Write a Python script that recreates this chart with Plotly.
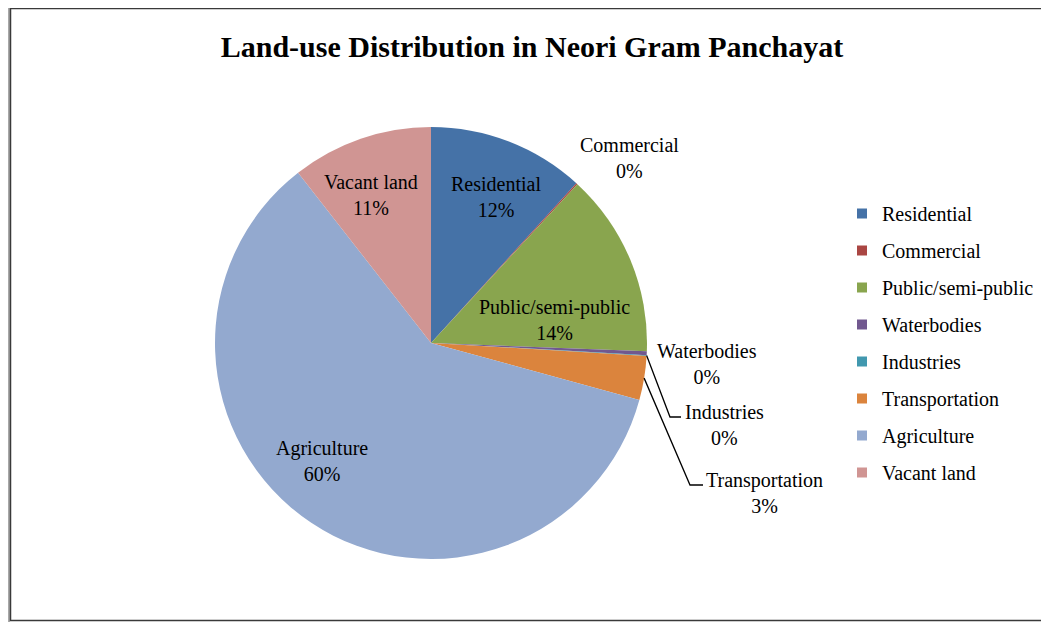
import math
import plotly.graph_objects as go

categories = ["Residential", "Commercial", "Public/semi-public", "Waterbodies",
              "Industries", "Transportation", "Agriculture", "Vacant land"]
values = [11.75, 0.1, 13.75, 0.3, 0.05, 3.3, 60.2, 10.55]
colors = ["#4572A7", "#AA4643", "#89A54E", "#71588F",
          "#4198AF", "#DB843D", "#93A9CF", "#D09593"]
title_text = "Land-use Distribution in Neori Gram Panchayat"

FONT = "Liberation Serif, Times New Roman, serif"

# page body has an 8px margin: figure drawn at (8, 8)
OFF = 8
W, H = 1041, 614


def px(x):
    return (x - OFF) / W


def py(y):
    return 1 - (y - OFF) / H


# pie geometry (screen pixels)
CX, CY, R = 431, 343, 216

fig = go.Figure()
fig.add_trace(go.Pie(
    labels=categories,
    values=values,
    sort=False,
    direction="clockwise",
    rotation=0,
    marker=dict(colors=colors, line=dict(width=0)),
    textinfo="none",
    showlegend=False,
    hoverinfo="label+percent",
    domain=dict(x=[px(CX - R), px(CX + R)], y=[py(CY + R), py(CY - R)]),
))

# legend entries via dummy traces
for i, (c, col) in enumerate(zip(categories, colors)):
    fig.add_trace(go.Scatter(
        x=[None], y=[None], mode="markers", name=c,
        marker=dict(symbol="square", size=10, color=col),
        legendgroup=f"g{i}", showlegend=True,
    ))

total = sum(values)


def edge_point(frac_pos, rr=1.0):
    ang = 2 * math.pi * frac_pos
    return CX + R * rr * math.sin(ang), CY - R * rr * math.cos(ang)


cum = []
s = 0
for v in values:
    cum.append((s, s + v))
    s += v

annotations = []
shapes = []

label_pos = {
    "Residential": (496, 197),
    "Commercial": (629, 158),
    "Public/semi-public": (554, 320),
    "Waterbodies": (707, 364),
    "Industries": (724, 425),
    "Transportation": (764, 493),
    "Agriculture": (322, 461),
    "Vacant land": (371, 195),
}
for i, c in enumerate(categories):
    pct = round(values[i] / total * 100)
    x, y = label_pos[c]
    annotations.append(dict(
        x=px(x), y=py(y), xref="paper", yref="paper",
        text=f"{c}<br>{pct}%", showarrow=False,
        font=dict(family=FONT, size=20, color="black"),
        xanchor="center", yanchor="middle", align="center",
    ))

# leader lines from slice edge
leaders = {"Industries": (670, 417, 681), "Transportation": (690, 485, 703)}
for i, c in enumerate(categories):
    if c in leaders:
        mid = (cum[i][0] + cum[i][1]) / 2 / total
        x0, y0 = edge_point(mid, 1.0)
        xb, yb, xe = leaders[c]
        shapes.append(dict(
            type="path", xref="paper", yref="paper",
            path=f"M {px(x0)} {py(y0)} L {px(xb)} {py(yb)} L {px(xe)} {py(yb)}",
            line=dict(color="black", width=1.3),
        ))

# frame / shadow
shapes.append(dict(type="rect", xref="paper", yref="paper", x0=px(0), x1=px(10), y0=0, y1=py(0),
                   fillcolor="#A8A8A8", line=dict(width=0), layer="below"))
shapes.append(dict(type="rect", xref="paper", yref="paper", x0=px(0), x1=1, y0=py(8), y1=py(0),
                   fillcolor="#B4B4B4", line=dict(width=0), layer="below"))
shapes.append(dict(type="rect", xref="paper", yref="paper", x0=px(10.5), x1=px(1070),
                   y0=py(620.5), y1=py(8.5),
                   fillcolor="white", line=dict(color="#3A3A3A", width=1.5), layer="below"))

fig.update_layout(
    width=W, height=H,
    margin=dict(l=0, r=0, t=0, b=0),
    paper_bgcolor="white", plot_bgcolor="white",
    title=dict(text=f"<b>{title_text}</b>", x=px(532), y=py(46),
               xanchor="center", yanchor="middle",
               font=dict(family=FONT, size=30, color="black")),
    xaxis=dict(visible=False), yaxis=dict(visible=False),
    legend=dict(x=px(842), y=py(194), xanchor="left", yanchor="top",
                font=dict(family=FONT, size=20, color="black"),
                tracegroupgap=8, bgcolor="rgba(0,0,0,0)"),
    annotations=annotations, shapes=shapes,
)

fig.write_html("out.html")
